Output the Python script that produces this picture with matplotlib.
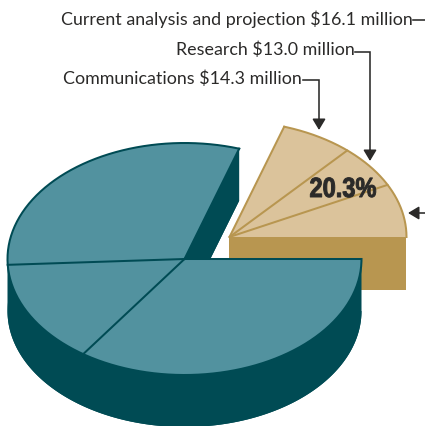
import numpy as np
import matplotlib
matplotlib.use("Agg")
import matplotlib.pyplot as plt
from matplotlib.patches import Polygon
from matplotlib.patheffects import AbstractPathEffect
from matplotlib.transforms import Affine2D

# ---- data (percent of total / millions) ----
tan_labels = ["Current analysis and projection", "Research", "Communications"]
tan_values = [16.1, 13.0, 14.3]
tan_share = 20.3
teal_shares = [30.8, 14.5, 34.7]

TEAL_TOP, TEAL_DARK = "#52929F", "#004B54"
TAN_TOP, TAN_DARK = "#DBC39B", "#B89650"
INK = "#2B2A29"
LW = 1.45
TAN_SWEEP = 72

fig = plt.figure(figsize=(4.25, 4.26), dpi=100)
ax = fig.add_axes([0, 0, 1, 1])
ax.set_xlim(0, 425)
ax.set_ylim(426, 0)
ax.axis("off")

RX, RY, DEPTH = 177, 116, 52


def pt(c, deg):
    a = np.radians(deg)
    return np.array([c[0] + RX * np.cos(a), c[1] - RY * np.sin(a)])


def arc(c, a0, a1):
    t = np.linspace(a0, a1, 240)
    return np.column_stack([pt(c, x) for x in t]).T


# Tan slice block
tc = (229.5, 237)
tan_edges = np.concatenate([[0], np.cumsum(tan_values) / sum(tan_values) * TAN_SWEEP])
ax.add_patch(Polygon([tc, (tc[0] + RX, tc[1]), (tc[0] + RX, tc[1] + DEPTH + 1),
                      (tc[0], tc[1] + DEPTH + 1)], fc=TAN_DARK, ec="none", zorder=1))
ax.add_patch(Polygon(np.vstack([tc, arc(tc, tan_edges[0], tan_edges[-1])]),
                     fc=TAN_TOP, ec="none", zorder=2))
ax.plot(*arc(tc, tan_edges[0], tan_edges[-1]).T, color=TAN_DARK, lw=LW, zorder=3)
for e in tan_edges[1:]:
    p = pt(tc, e)
    ax.plot([tc[0], p[0]], [tc[1], p[1]], color=TAN_DARK, lw=LW, zorder=3,
            solid_capstyle="round")

# Teal pie
c = (184.5, 259)
teal_edges = TAN_SWEEP + np.concatenate([[0], np.cumsum(teal_shares)]) * 3.6
start, end = teal_edges[0], teal_edges[-1]
top_shape = np.vstack([c, arc(c, start, end)])
shifted = top_shape + [0, DEPTH]
ax.add_patch(Polygon(shifted, fc=TEAL_DARK, ec="none", zorder=4))
lower = arc(c, 180, end)
ax.add_patch(Polygon(np.vstack([lower, (lower + [0, DEPTH])[::-1]]),
                     fc=TEAL_DARK, ec="none", zorder=4))
p0 = pt(c, start)
ax.add_patch(Polygon([c, p0, p0 + [0, DEPTH], np.array(c) + [0, DEPTH]],
                     fc=TEAL_DARK, ec="none", zorder=4))
ax.add_patch(Polygon(top_shape, fc=TEAL_TOP, ec="none", zorder=5))
ax.plot(*arc(c, start, end).T, color=TEAL_DARK, lw=LW, zorder=6)
for e in teal_edges:
    p = pt(c, e)
    ax.plot([c[0], p[0]], [c[1], p[1]], color=TEAL_DARK, lw=LW, zorder=6)

# Labels
font = ["Lato", "DejaVu Sans"]
FS = 12.9
ax.text(413, 19, f"{tan_labels[0]} ${tan_values[0]} million", ha="right", va="center",
        fontsize=FS, color=INK, family=font, zorder=8)
ax.text(355, 50, f"{tan_labels[1]} ${tan_values[1]:.1f} million", ha="right", va="center",
        fontsize=FS, color=INK, family=font, zorder=8)
ax.text(302, 79, f"{tan_labels[2]} ${tan_values[2]} million", ha="right", va="center",
        fontsize=FS, color=INK, family=font, zorder=8)


class Squeeze(AbstractPathEffect):
    """Narrow and embolden the glyph outlines, keeping the text a real text."""

    def __init__(self, sx, stroke):
        super().__init__()
        self.sx = sx
        self.stroke = stroke

    def draw_path(self, renderer, gc, tpath, affine, rgbFace=None):
        g = renderer.new_gc()
        g.copy_properties(gc)
        g.set_linewidth(self.stroke)
        g.set_foreground(INK)
        renderer.draw_path(g, tpath, Affine2D().scale(self.sx, 1) + affine, rgbFace)
        g.restore()


ax.text(309.5, 197, f"{tan_share}%", ha="left", va="baseline", fontsize=20,
        fontweight="bold", family="Liberation Sans", color=INK, zorder=8,
        path_effects=[Squeeze(0.85, 0.7)])

# Leaders
LL = 1.15
ax.plot([413, 425], [20, 20], color=INK, lw=LL, zorder=7)


def leader(points):
    xs, ys = zip(*points)
    ax.plot(xs[:-1], ys[:-1], color=INK, lw=LL, zorder=7, solid_joinstyle="miter")
    ax.annotate("", xy=points[-1], xytext=points[-2],
                arrowprops=dict(arrowstyle="-|>,head_length=0.6,head_width=0.36",
                                color=INK, lw=LL, shrinkA=0, shrinkB=0,
                                mutation_scale=11), zorder=7)


leader([(355, 52), (370, 52), (370, 150), (370, 161)])
leader([(303, 80), (319, 80), (319, 120), (319, 130)])
leader([(425, 213), (418, 213), (408, 213)])

fig.savefig("out.png", dpi=100)
